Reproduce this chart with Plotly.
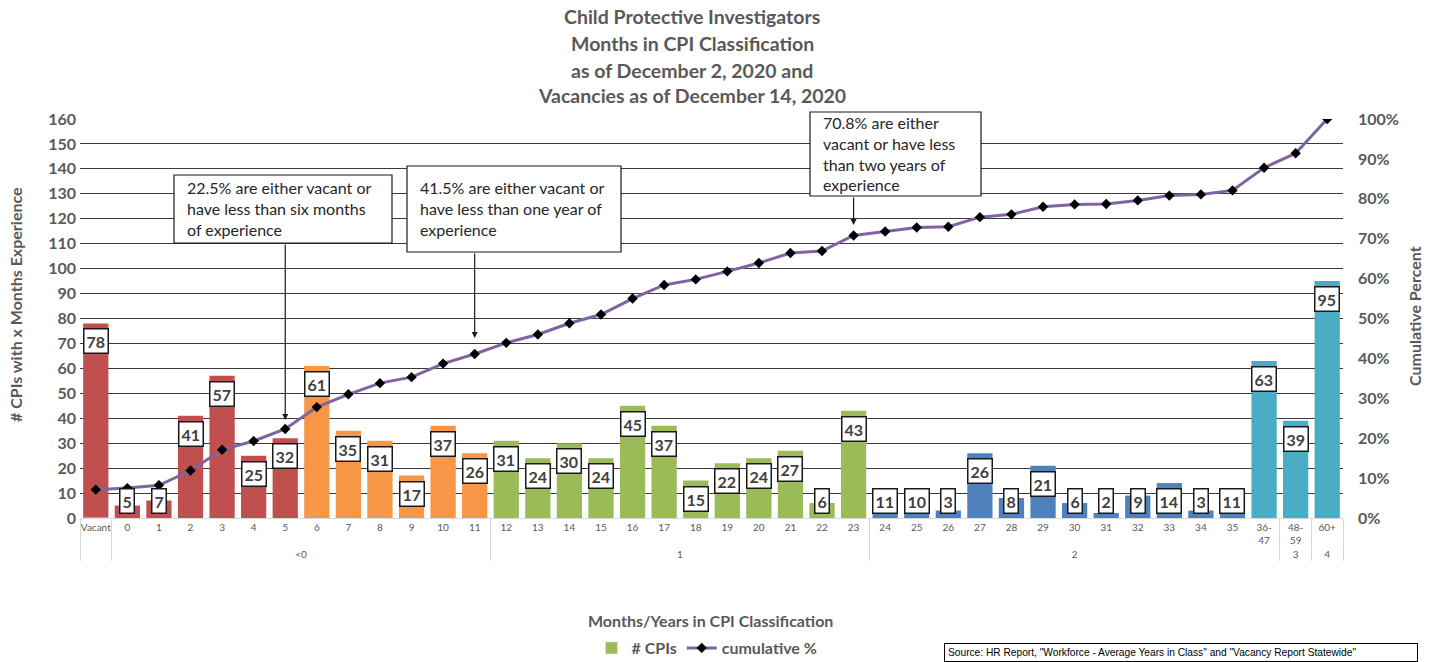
import plotly.graph_objects as go

# ---------------- data ----------------
categories = ["Vacant", "0", "1", "2", "3", "4", "5", "6", "7", "8", "9", "10", "11",
              "12", "13", "14", "15", "16", "17", "18", "19", "20", "21", "22", "23",
              "24", "25", "26", "27", "28", "29", "30", "31", "32", "33", "34", "35",
              "36-<br>47", "48-<br>59", "60+"]
groups = [" "] + ["<0"] * 12 + ["1"] * 12 + ["2"] * 13 + ["3", "4"]
counts = [78, 5, 7, 41, 57, 25, 32, 61, 35, 31, 17, 37, 26,
          31, 24, 30, 24, 45, 37, 15, 22, 24, 27, 6, 43,
          11, 10, 3, 26, 8, 21, 6, 2, 9, 14, 3, 11,
          63, 39, 95]
cum_pct = [7.1, 7.5, 8.2, 11.9, 17.1, 19.3, 22.3, 27.8, 31.0, 33.8, 35.3, 38.7, 41.1,
           43.9, 46.0, 48.8, 51.0, 55.0, 58.4, 59.8, 61.8, 63.9, 66.4, 66.9, 70.8,
           71.8, 72.8, 73.0, 75.4, 76.1, 78.0, 78.6, 78.7, 79.6, 80.8, 81.1, 82.1,
           87.8, 91.4, 100.0]
segment_sizes = [7, 6, 12, 12, 3]
segment_colors = ["#C0504D", "#F79646", "#9BBB59", "#4F81BD", "#4BACC6"]

title_lines = ["Child Protective Investigators", "Months in CPI Classification",
               "as of December 2, 2020 and", "Vacancies as of December 14, 2020"]
callouts = [
    "22.5% are either vacant or<br>have less than six months<br>of experience",
    "41.5% are either vacant or<br>have less than one year of<br>experience",
    "70.8% are either<br>vacant or have less<br>than two years of<br>experience",
]
callout_targets = ["5", "11", "23"]
source_text = 'Source: HR Report, "Workforce - Average Years in Class" and "Vacancy Report Statewide"'

# ---------------- layout helpers ----------------
W, H = 1432, 662
PL, PR, PT, PB = 80, 1343, 119, 518
N = len(categories)
FONT = "Lato, 'Open Sans', sans-serif"
GRAY = "#595959"

def px_x(px):
    return (px - PL) / (PR - PL)

def px_y(py):
    return (PB - py) / (PB - PT)

def cat_x(i):
    return (i + 0.5) / N

bar_colors = []
for size, col in zip(segment_sizes, segment_colors):
    bar_colors += [col] * size

fig = go.Figure()
fig.add_trace(go.Bar(
    x=[groups, categories], y=counts, marker=dict(color=bar_colors, line=dict(width=0)),
    showlegend=False, name="# CPIs", hoverinfo="skip"))
fig.add_trace(go.Bar(
    x=[[groups[0]], [categories[0]]], y=[0], marker_color="#9BBB59", name="# CPIs",
    showlegend=True, hoverinfo="skip"))
fig.add_trace(go.Scatter(
    x=[groups, categories], y=cum_pct, yaxis="y2", mode="lines+markers",
    name="cumulative %", line=dict(color="#8064A2", width=3),
    marker=dict(symbol="diamond", size=8, color="black")))

ann = []
# title
for k, line in enumerate(title_lines):
    ann.append(dict(xref="paper", yref="paper", x=px_x(692), y=px_y([17, 43, 70, 96][k]),
                    text=f"<b>{line}</b>", showarrow=False, xanchor="center", yanchor="middle",
                    font=dict(family=FONT, size=19.5, color=GRAY)))
# data labels
for i, v in enumerate(counts):
    ann.append(dict(xref="paper", yref="y", x=cat_x(i), y=max(v - 7.2, 6.8),
                    text=f"<b>{v}</b>", showarrow=False, xanchor="center", yanchor="middle",
                    font=dict(family=FONT, size=16, color="#404040"),
                    bgcolor="white", bordercolor="#1a1a1a", borderwidth=1.5, borderpad=2))

# callout boxes (rect px) and text
boxes = [(174, 175, 392, 243), (407, 166, 621, 252), (810, 112, 981, 196)]
text_pos = [(185, 176), (418, 176), (821, 111)]
tips = [420, 338, 225]
shapes = []
for k in range(3):
    x0, y0, x1, y1 = boxes[k]
    shapes.append(dict(type="rect", xref="paper", yref="paper", x0=px_x(x0), x1=px_x(x1),
                       y0=px_y(y1), y1=px_y(y0), fillcolor="white",
                       line=dict(color="#1a1a1a", width=1.2), layer="above"))
    tx, ty = text_pos[k]
    ann.append(dict(xref="paper", yref="paper", x=px_x(tx), y=px_y(ty), text=callouts[k],
                    showarrow=False, xanchor="left", yanchor="top", align="left",
                    font=dict(family=FONT, size=16, color="#262626")))
    i = categories.index(callout_targets[k])
    ann.append(dict(xref="paper", yref="y", x=cat_x(i), y=(PB - tips[k]) / (PB - PT) * 160,
                    text="", showarrow=True, arrowhead=2, arrowsize=1, arrowwidth=1.2,
                    arrowcolor="#1a1a1a", ax=0, ay=-(tips[k] - y1), axref="pixel", ayref="pixel"))

# axis titles
ann.append(dict(xref="paper", yref="paper", x=px_x(15), y=px_y(305), xanchor="center",
                yanchor="middle", text="<b># CPIs with x Months Experience</b>", textangle=-90,
                showarrow=False, font=dict(family=FONT, size=16, color=GRAY)))
ann.append(dict(xref="paper", yref="paper", x=px_x(1414), y=px_y(316), xanchor="center",
                yanchor="middle", text="<b>Cumulative Percent</b>", textangle=-90,
                showarrow=False, font=dict(family=FONT, size=16, color=GRAY)))
ann.append(dict(xref="paper", yref="paper", x=px_x(710), y=px_y(620), xanchor="center",
                yanchor="middle", text="<b>Months/Years in CPI Classification</b>",
                showarrow=False, font=dict(family=FONT, size=16, color=GRAY)))
# source box
ann.append(dict(xref="paper", yref="paper", x=px_x(944), y=px_y(643), xanchor="left",
                yanchor="top", align="left", text=source_text, showarrow=False, width=466,
                font=dict(family="'Liberation Sans Narrow', 'Arial Narrow', sans-serif", size=10.2,
                          color="black"),
                bordercolor="black", borderwidth=1, borderpad=3, bgcolor="white"))

fig.update_layout(
    width=W, height=H, autosize=False,
    margin=dict(l=PL, r=W - PR, t=PT, b=H - PB, autoexpand=False),
    paper_bgcolor="white", plot_bgcolor="white",
    barmode="overlay", bargap=0.2,
    font=dict(family=FONT, color=GRAY),
    xaxis=dict(type="multicategory", range=[-0.5, N - 0.5], showline=True,
               linecolor="#d9d9d9", linewidth=1, showgrid=False, tickangle=0,
               automargin=False,
               tickfont=dict(family=FONT, size=10, color=GRAY),
               showdividers=True, dividercolor="#d9d9d9", dividerwidth=1),
    yaxis=dict(range=[0, 160], dtick=10, showgrid=True, gridcolor="#3a3a3a", gridwidth=1,
               zeroline=False, automargin=False,
               tickfont=dict(family=FONT, size=16, color=GRAY, weight="bold"),
               ticklabelstandoff=3),
    yaxis2=dict(range=[0, 100], dtick=10, overlaying="y", side="right", showgrid=False,
                zeroline=False, ticksuffix="%", automargin=False,
                tickfont=dict(family=FONT, size=16, color=GRAY, weight="bold"),
                ticklabelstandoff=14),
    legend=dict(orientation="h", xref="container", yref="container",
                x=707 / W, xanchor="center", y=1 - 648 / H, yanchor="middle",
                font=dict(family=FONT, size=16, color=GRAY, weight="bold"),
                bgcolor="rgba(0,0,0,0)", itemwidth=30, traceorder="normal"),
    annotations=ann, shapes=shapes,
)

fig.write_html("out.html", config={"displayModeBar": False},
               post_script="document.body.style.margin='0';")
